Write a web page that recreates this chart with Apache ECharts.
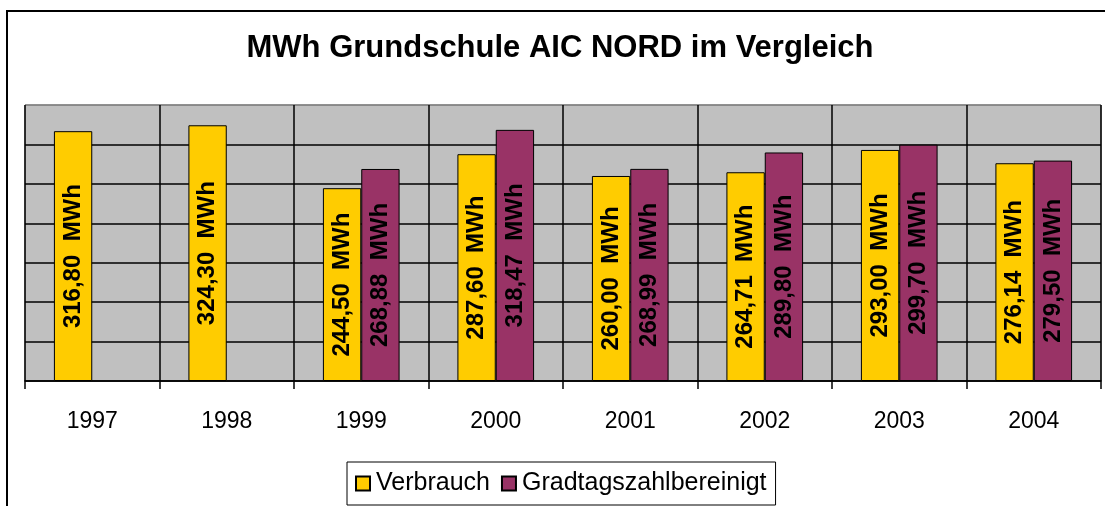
<!DOCTYPE html>
<html>
<head>
<meta charset="utf-8">
<script src="https://cdn.jsdelivr.net/npm/echarts@6/dist/echarts.min.js"></script>
<style>
html,body{margin:0;padding:0;background:#fff;}
#chart{width:1105px;height:506px;}
</style>
</head>
<body>
<div id="chart"></div>
<script>
var years = ['1997','1998','1999','2000','2001','2002','2003','2004'];
var verbrauch = [316.80, 324.30, 244.50, 287.60, 260.00, 264.71, 293.00, 276.14];
var bereinigt = [null, null, 268.88, 318.47, 268.99, 289.80, 299.70, 279.50];

var font = 'Liberation Sans, Arial, sans-serif';

function lbl(p){
	return p.value.toFixed(2).replace('.', ',') + '  MWh';
}

var chart = echarts.init(document.getElementById('chart'));
var option = {
	animation:false,
	textStyle:{fontFamily:font},
	title:{
		text:'MWh Grundschule AIC NORD im Vergleich',
		left:560,
		textAlign:'center',
		top:33,
		padding:0,
		textStyle:{fontFamily:font,fontSize:31,fontWeight:'bold',color:'#000'}
	},
	graphic:[{
		type:'rect',
		shape:{x:7,y:11,width:1200,height:600},
		style:{fill:'none',stroke:'#000',lineWidth:2},
		silent:true
	}],
	legend:{
		left:347,
		top:462,
		padding:[9,9,9,8],
		borderColor:'#000',
		borderWidth:1,
		itemWidth:14,
		itemHeight:14,
		itemGap:11,
		icon:'rect',
		textStyle:{fontFamily:font,fontSize:25,color:'#000',padding:[0,0,0,1]},
		data:['Verbrauch','Gradtagszahlbereinigt']
	},
	grid:{
		left:25, right:4, top:105, bottom:125,
		show:true,
		backgroundColor:'#c0c0c0',
		borderColor:'#808080',
		borderWidth:1
	},
	xAxis:{
		type:'category',
		data:years,
		axisLine:{lineStyle:{color:'#000',width:1.5}},
		axisTick:{show:true,interval:0,length:8,lineStyle:{color:'#000',width:1.5}},
		axisLabel:{fontFamily:font,fontSize:23,color:'#000',margin:29},
		splitLine:{show:true,interval:0,lineStyle:{color:'#000',width:1.5}}
	},
	yAxis:{
		type:'value',
		min:0, max:350, interval:50,
		axisLabel:{show:false},
		axisLine:{show:false},
		axisTick:{show:false},
		splitLine:{show:true,lineStyle:{color:['#000','#000','#000','#000','#000','#000','#000','#808080'],width:1.5}}
	},
	series:[{
		name:'Verbrauch',
		type:'bar',
		data:verbrauch,
		barGap:'0%',
		barCategoryGap:'43%',
		itemStyle:{color:'#ffcc00',borderColor:'#000',borderWidth:1},
		label:{show:true,position:'inside',rotate:90,formatter:lbl,
			fontFamily:font,fontSize:24,fontWeight:'bold',color:'#000'}
	},{
		name:'Gradtagszahlbereinigt',
		type:'bar',
		data:bereinigt,
		itemStyle:{color:'#993366',borderColor:'#000',borderWidth:1},
		label:{show:true,position:'inside',rotate:90,formatter:lbl,
			fontFamily:font,fontSize:24,fontWeight:'bold',color:'#000'}
	}]
};
chart.setOption(option);
</script>
</body>
</html>
